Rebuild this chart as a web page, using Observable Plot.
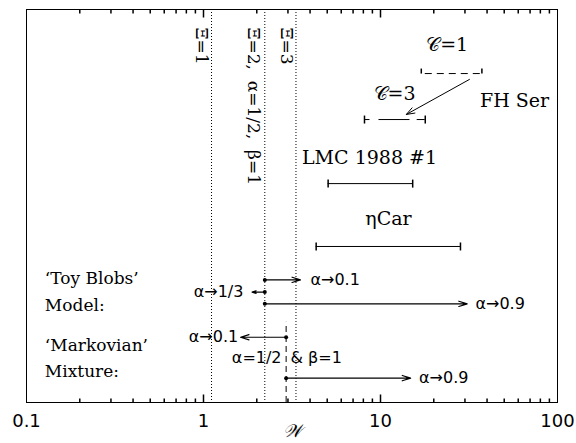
<!DOCTYPE html>
<html><head><meta charset="utf-8">
<script src="https://cdn.jsdelivr.net/npm/d3@7"></script>
<script src="https://cdn.jsdelivr.net/npm/@observablehq/plot@0.6"></script>
<style>body{margin:0;background:#fff} svg{display:block;background:#fff}</style>
</head><body><div id="chart"></div>
<script>
// ---- axis ----
const xDomain = [0.1, 100];
const majorTicks = [0.1, 1, 10, 100];
const tickLabels = ["0.1", "1", "10", "100"];
const minorTicks = [0.2,0.3,0.4,0.5,0.6,0.7,0.8,0.9, 2,3,4,5,6,7,8,9, 20,30,40,50,60,70,80,90];
const axisLabel = "𝒲";

// ---- vertical reference lines (Xi) ----
const xiX = [1.11, 2.22, 3.33];
const xiLabels = ["Ξ=1", "Ξ=2,  α=1/2,  β=1", "Ξ=3"];
const xiLabelX = [0.974, 1.905, 2.94];
const xiLabelY = [95.4, 95.4, 95.4];

// ---- observed ranges ----
const obsNames  = ["FH Ser C=1", "FH Ser C=3", "LMC 1988 #1", "eta Car"];
const obsLow    = [17.0, 8.12, 5.06, 4.33];
const obsHigh   = [37.4, 17.9, 15.2, 28.3];
const obsY      = [83.7, 72.0, 55.7, 39.7];

const objLabels = ["𝒞=1", "𝒞=3", "FH Ser", "LMC 1988 #1", "ηCar"];
const objLabelX = [23.8, 12.0, 57.2, 8.67, 11.1];
const objLabelY = [91.1, 78.6, 76.8, 62.3, 46.6];

const fhArrowFrom = [31.8, 82.2];
const fhArrowTo   = [14.0, 73.3];

// ---- model arrows ----
const modelStartX = [2.22, 2.22, 2.22, 2.93, 2.93];
const modelEndX   = [3.53, 1.88, 30.9, 1.62, 14.8];
const modelY      = [31.2, 28.1, 25.1, 16.6, 6.2];
const modelLabels = ["α→0.1", "α→1/3", "α→0.9", "α→0.1", "α→0.9"];
const modelLabelX = [4.02, 1.68, 34.4, 1.57, 16.5];
const modelAnchor = ["start", "end", "start", "end", "start"];

const markovLineX = 2.93;
const markovLineY = [0, 20.4];
const markovNote  = ["α=1/2", "& β=1"];
const markovNoteX = [2.76, 3.10];
const markovNoteY = [11.4, 11.4];
const markovNoteAnchor = ["end", "start"];

const sideLabels = ["‘Toy Blobs’", "Model:", "‘Markovian’", "Mixture:"];
const sideLabelX = [0.127, 0.127, 0.127, 0.127];
const sideLabelY = [31.6, 24.7, 14.5, 7.9];

// ---- helpers ----
const idx = a => a.map((_, i) => i);
const vTick = (up, down) => ({draw(ctx) { ctx.moveTo(0, -up); ctx.lineTo(0, down); }});
const serif = "DejaVu Serif";
const sans = "DejaVu Sans";

const obs = idx(obsNames).map(i => ({name: obsNames[i], lo: obsLow[i], hi: obsHigh[i], y: obsY[i]}));
const models = idx(modelY).map(i => ({x1: modelStartX[i], x2: modelEndX[i], y: modelY[i], label: modelLabels[i], lx: modelLabelX[i], anchor: modelAnchor[i]}));
const notes = idx(markovNote).map(i => ({text: markovNote[i], x: markovNoteX[i], y: markovNoteY[i], anchor: markovNoteAnchor[i]}));

const labelMarks = (data, opts) => ["start", "end"].map(a =>
  Plot.text(data.filter(d => d.anchor === a), {...opts, textAnchor: a}));

const chart = Plot.plot({
  width: 576, height: 443,
  marginLeft: 26, marginRight: 19, marginTop: 9, marginBottom: 41,
  style: {background: "#fff", color: "#000"},
  x: {type: "log", domain: xDomain},
  y: {domain: [0, 100], axis: null},
  marks: [
    Plot.frame({stroke: "#000"}),
    // axis labels
    Plot.axisX({anchor: "bottom", ticks: majorTicks, tickSize: 0, tickPadding: 12,
      tickFormat: d => tickLabels[majorTicks.indexOf(d)], fontSize: 18, fontFamily: sans, label: null}),
    Plot.text([axisLabel], {frameAnchor: "bottom", dy: 34, fontSize: 18, fontFamily: serif, fontStyle: "italic"}),
    // inward ticks
    Plot.dot(majorTicks.slice(1, -1), {x: d => d, frameAnchor: "bottom", symbol: vTick(8, 0), stroke: "#000", fill: "none"}),
    Plot.dot(minorTicks, {x: d => d, frameAnchor: "bottom", symbol: vTick(4, 0), stroke: "#000", fill: "none"}),
    Plot.dot(majorTicks.slice(1, -1), {x: d => d, frameAnchor: "top", symbol: vTick(0, 8), stroke: "#000", fill: "none"}),
    Plot.dot(minorTicks, {x: d => d, frameAnchor: "top", symbol: vTick(0, 4), stroke: "#000", fill: "none"}),
    // Xi lines
    Plot.ruleX(xiX, {stroke: "#000", strokeDasharray: "1,2", strokeWidth: 1}),
    Plot.text(idx(xiLabels), {x: i => xiLabelX[i], y: i => xiLabelY[i], text: i => xiLabels[i], rotate: 90, textAnchor: "start",
      fontSize: 17, fontFamily: serif}),
    // observed ranges
    Plot.ruleY(obs.slice(0, 1), {x1: "lo", x2: "hi", y: "y", stroke: "#000", strokeDasharray: "7,5", strokeDashoffset: -4}),
    Plot.ruleY(obs.slice(1, 2), {x1: "lo", x2: "hi", y: "y", stroke: "#000", strokeDasharray: "5.5,9,31,7.2,8"}),
    Plot.ruleY(obs.slice(2), {x1: "lo", x2: "hi", y: "y", stroke: "#000"}),
    Plot.dot(obs.slice(0, 1).flatMap(d => [{x: d.lo, y: d.y}, {x: d.hi, y: d.y}]), {x: "x", y: "y", symbol: vTick(5, 0), stroke: "#000", fill: "none"}),
    Plot.dot(obs.slice(1).flatMap(d => [{x: d.lo, y: d.y}, {x: d.hi, y: d.y}]), {x: "x", y: "y", symbol: vTick(4, 4), stroke: "#000", fill: "none"}),
    Plot.arrow([0], {x1: fhArrowFrom[0], y1: fhArrowFrom[1], x2: fhArrowTo[0], y2: fhArrowTo[1], stroke: "#000", headLength: 13, headAngle: 40, strokeWidth: 1}),
    Plot.text(idx(objLabels), {x: i => objLabelX[i], y: i => objLabelY[i], text: i => objLabels[i], fontSize: 19, fontFamily: serif}),
    // models
    Plot.arrow(models, {x1: "x1", x2: "x2", y1: "y", y2: "y", stroke: "#000", headLength: 11, headAngle: 35, strokeWidth: 1.2}),
    Plot.dot(models, {x: "x1", y: "y", r: 2, fill: "#000"}),
    ...labelMarks(models, {x: "lx", y: "y", text: "label", fontSize: 16, fontFamily: sans}),
    Plot.ruleX([markovLineX], {y1: markovLineY[0], y2: markovLineY[1], stroke: "#000", strokeDasharray: "6,4"}),
    ...labelMarks(notes, {x: "x", y: "y", text: "text", fontSize: 16, fontFamily: sans}),
    Plot.text(idx(sideLabels), {x: i => sideLabelX[i], y: i => sideLabelY[i], text: i => sideLabels[i], textAnchor: "start", fontSize: 17, fontFamily: serif})
  ]
});
document.getElementById("chart").appendChild(chart);
</script>
</body></html>
